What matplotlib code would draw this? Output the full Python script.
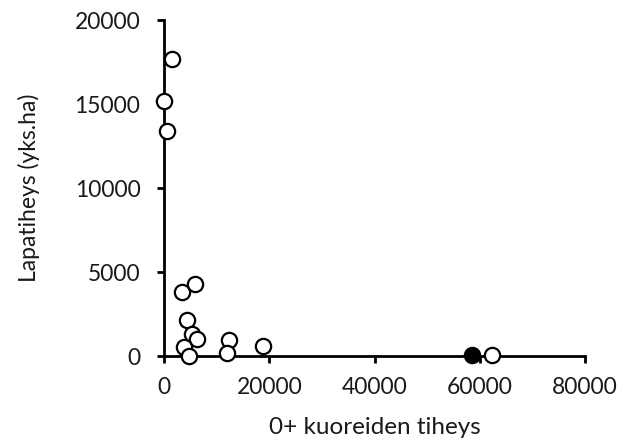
import matplotlib
matplotlib.use("Agg")
import matplotlib.pyplot as plt

# open-circle observations
x_open = [1500, 0, 570, 3350, 5880, 4420, 5370, 6190, 3850, 4800, 12380, 11880, 18830, 62400]
y_open = [17700, 15200, 13400, 3800, 4300, 2150, 1310, 1010, 520, 0, 950, 200, 600, 60]
# filled observation
x_filled = [58600]
y_filled = [40]

x_ticks = [0, 20000, 40000, 60000, 80000]
y_ticks = [0, 5000, 10000, 15000, 20000]

plt.rcParams['font.family'] = ['Lato', 'DejaVu Sans']
txt = '#1a1a1a'

fig = plt.figure(figsize=(6.25, 4.41), dpi=100)
ax = fig.add_axes([0.2624, 0.1927, 0.6736, 0.7619])
ax.plot(x_open, y_open, linestyle='none', marker='o', markersize=11,
        markerfacecolor='white', markeredgecolor='black', markeredgewidth=1.6, clip_on=False, zorder=3)
ax.plot(x_filled, y_filled, linestyle='none', marker='o', markersize=11,
        markerfacecolor='black', markeredgecolor='black', markeredgewidth=1.6, clip_on=False, zorder=3)

ax.set_xlim(0, 80000)
ax.set_ylim(0, 20000)
ax.set_xticks(x_ticks)
ax.set_yticks(y_ticks)
ax.set_xticklabels([str(v) for v in x_ticks])
ax.set_yticklabels([str(v) for v in y_ticks])
for s in ['top', 'right']:
    ax.spines[s].set_visible(False)
for s in ['left', 'bottom']:
    ax.spines[s].set_linewidth(2)
    ax.spines[s].set_color('black')
ax.tick_params(direction='out', length=5, width=2, colors='black', labelsize=16.5,
               labelcolor=txt)
ax.tick_params(axis='y', pad=12)
ax.tick_params(axis='x', pad=10)
ax.set_xlabel('0+ kuoreiden tiheys', fontsize=17.5, color=txt, labelpad=14)
ax.set_ylabel('Lapatiheys (yks.ha)', fontsize=16.5, color=txt, labelpad=25)

fig.savefig('out.png', dpi=100)
